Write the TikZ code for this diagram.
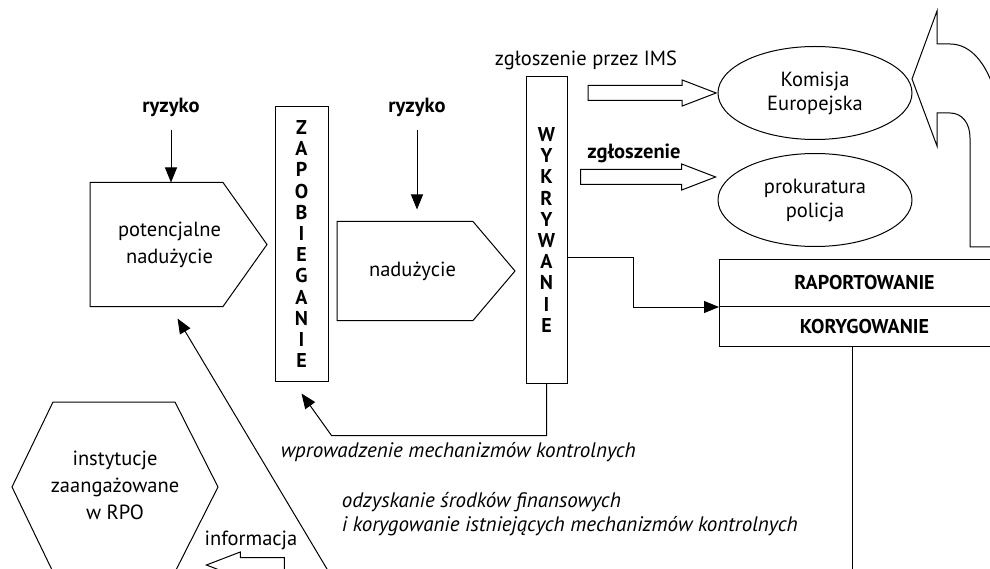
\documentclass[tikz,border=0pt]{standalone}
\usepackage{fontspec}
\setmainfont{PT Sans}
\usetikzlibrary{arrows.meta, positioning, calc, shapes.geometric, shapes.arrows}

\begin{document}
\begin{tikzpicture}[
    x=1pt, y=-1pt, line width=1pt,
    font=\fontsize{20.5}{26}\selectfont,
    plate/.style={rectangle, inner sep=0pt, anchor=west, align=center},
    column/.style={rectangle, draw, inner sep=0pt, align=center, font=\fontsize{20}{21.2}\selectfont\bfseries},
    oval/.style={ellipse, draw, minimum width=194pt, minimum height=93pt, inner sep=0pt, align=center, font=\fontsize{20.5}{24}\selectfont},
    hollow/.style={single arrow, draw, inner xsep=0pt, inner ysep=7pt, single arrow head extend=5.5pt, single arrow tip angle=42, anchor=tip},
    panel/.style={rectangle, draw, inner sep=0pt, anchor=north west, minimum width=290pt, font=\fontsize{20}{24}\selectfont\bfseries},
    tag/.style={anchor=west, align=left, font=\fontsize{21}{24}\selectfont\itshape},
    strong/.style={font=\fontsize{20.5}{24}\selectfont\bfseries},
    arrow/.style={-{Triangle[length=15pt, width=12pt]}}
]
\useasboundingbox (0,0) rectangle (990,569);
\clip (0,0) rectangle (990,569);

% Nodes
\node[strong] (ryzyko1) at (171,107) {ryzyko};
\node[strong] (ryzyko2) at (417,107) {ryzyko};
\node[plate, text width=158pt, minimum height=124pt, font=\fontsize{20.5}{27}\selectfont] (potenc) at (90,245) {potencjalne\\nadużycie};
\node[plate, text width=150pt, minimum height=99pt] (naduz) at (337,271.5) {nadużycie};
\node[column, minimum width=53pt, minimum height=274pt] (zapob) at (301.5,244) {Z\\A\\P\\O\\B\\I\\E\\G\\A\\N\\I\\E};
\node[column, minimum width=41pt, minimum height=306pt] (wykr) at (546.5,230) {W\\Y\\K\\R\\Y\\W\\A\\N\\I\\E};
\node[oval] (komisja) at (815,93) {Komisja\\Europejska};
\node[oval] (prokur) at (815,200) {prokuratura\\policja};
\node (ims) at (586,60) {zgłoszenie przez IMS};
\node[strong] (zgl) at (634,153) {zgłoszenie};
\node[hollow, minimum height=128pt] (imsstrz) at (komisja.west) {};
\node[hollow, minimum height=135pt] (zglstrz) at (717,177) {};
\node[panel, minimum height=47pt] (raport) at (719,259) {\makebox[260pt]{RAPORTOWANIE}\hspace{30pt}};
\node[panel, minimum height=40pt] (koryg) at (719,306) {\makebox[260pt]{KORYGOWANIE}\hspace{30pt}};
\node[tag] (wprow) at (277,452) {wprowadzenie mechanizmów kontrolnych};
\node[tag] (odzysk) at (338,514) {odzyskanie środków finansowych\\ i korygowanie istniejących mechanizmów kontrolnych};
\node[align=center, font=\fontsize{20.5}{27}\selectfont] (instyt) at (115,485) {instytucje\\zaangażowane\\w RPO};
\node (inform) at (251,540) {informacja};
\node[hollow, minimum height=78pt, shape border rotate=180] (infstrz) at (205,565) {};
\coordinate (zrodlo) at (330,574);
\coordinate (dol) at (852,575);

% Outlines
\draw (potenc.north west) -- ++(133,0) -- ++(44,62) -- ++(-44,62) -- ++(-133,0) -- cycle;
\draw (naduz.north west) -- ++(136,0) -- ++(42,49.5) -- ++(-42,49.5) -- ++(-136,0) -- cycle;
\draw (53,402) -- (175,402) -- (218,487) -- (175,572) -- (53,572) -- (12,487) -- cycle;

% Paths
\draw[arrow] ([yshift=-10pt]ryzyko1.south) -- (ryzyko1.south |- potenc.north);
\draw[arrow, shorten >=12pt] ([yshift=-10pt]ryzyko2.south) -- (ryzyko2.south |- naduz.north);
\draw[arrow] ([yshift=-28pt]wykr.east) -- ++(66,0) |- (raport.south west);
\draw[arrow] (wykr.south) -- ++(0,52) -- ++(-215,0) -- ([yshift=-12pt]zapob.south);
\draw[arrow] (zrodlo) -- ([xshift=8pt, yshift=-11pt]potenc.south);
\draw (koryg.south west -| dol) -- (dol);
\draw (1000,112) .. controls (990,62) and (970,44) .. (950,44) -- (937,44) -- (937,11) -- (912,79) -- (937,146) -- (937,113) -- (950,113) .. controls (962,113) and (970,123) .. (970,138) -- (970,247) -- (1000,247);

\end{tikzpicture}
\end{document}
